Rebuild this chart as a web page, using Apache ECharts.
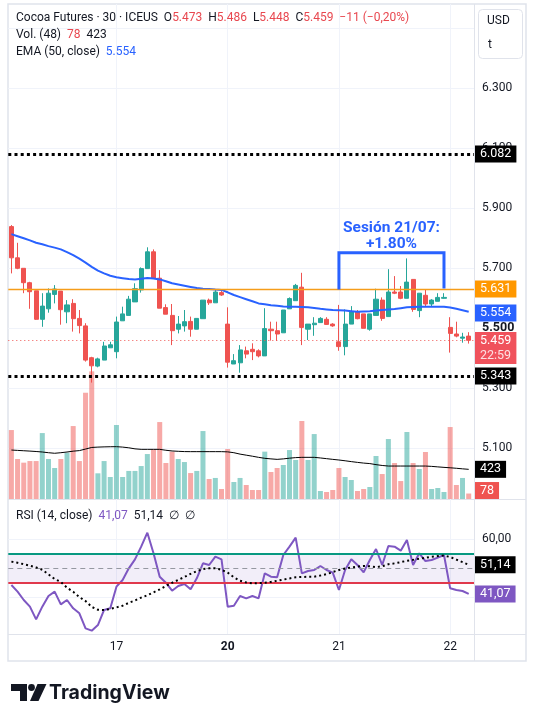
<!DOCTYPE html>
<html><head><meta charset="utf-8">
<script src="https://cdn.jsdelivr.net/npm/echarts@6/dist/echarts.min.js"></script>
<style>html,body{margin:0;padding:0;background:#fff}#c{width:536px;height:709px}</style>
</head><body><div id="c"></div>
<script>
// ---------- DATA ----------
const opens  = [5.838,5.734,5.699,5.651,5.624,5.529,5.564,5.612,5.623,5.554,5.582,5.532,5.507,5.401,5.373,5.393,5.434,5.421,5.524,5.542,5.587,5.627,5.698,5.754,5.666,5.568,5.542,5.496,5.507,5.522,5.496,5.531,5.593,5.584,5.618,5.513,5.380,5.384,5.424,5.429,5.424,5.407,5.496,5.491,5.484,5.564,5.591,5.636,5.496,5.511,5.518,5.529,5.513,5.454,5.438,5.513,5.554,5.547,5.496,5.542,5.593,5.538,5.620,5.620,5.599,5.662,5.558,5.609,5.580,5.589,5.599,5.502,5.480,5.466,5.473];
const closes = [5.734,5.699,5.651,5.621,5.529,5.573,5.616,5.630,5.561,5.577,5.531,5.508,5.393,5.374,5.397,5.440,5.444,5.520,5.547,5.596,5.631,5.698,5.754,5.666,5.566,5.546,5.491,5.513,5.521,5.496,5.532,5.593,5.584,5.620,5.610,5.386,5.391,5.427,5.413,5.421,5.407,5.498,5.491,5.480,5.560,5.598,5.642,5.502,5.513,5.516,5.532,5.512,5.507,5.438,5.513,5.554,5.531,5.499,5.547,5.596,5.532,5.620,5.616,5.599,5.653,5.562,5.616,5.580,5.593,5.602,5.602,5.482,5.473,5.470,5.459];
const lows   = [5.682,5.696,5.616,5.564,5.527,5.504,5.551,5.582,5.511,5.516,5.488,5.482,5.388,5.318,5.369,5.393,5.434,5.399,5.524,5.542,5.587,5.618,5.698,5.666,5.566,5.546,5.443,5.482,5.488,5.471,5.496,5.531,5.577,5.584,5.607,5.368,5.380,5.351,5.399,5.393,5.402,5.407,5.458,5.457,5.484,5.564,5.591,5.443,5.460,5.474,5.518,5.510,5.504,5.424,5.409,5.513,5.529,5.499,5.491,5.542,5.524,5.538,5.613,5.596,5.599,5.554,5.536,5.571,5.571,5.589,5.598,5.418,5.469,5.451,5.448];
const highs  = [5.843,5.784,5.699,5.654,5.624,5.616,5.632,5.643,5.623,5.593,5.596,5.560,5.516,5.404,5.401,5.454,5.454,5.538,5.571,5.607,5.649,5.702,5.769,5.762,5.693,5.579,5.580,5.540,5.560,5.538,5.532,5.593,5.598,5.629,5.627,5.569,5.413,5.443,5.438,5.449,5.429,5.566,5.521,5.521,5.560,5.602,5.647,5.684,5.513,5.536,5.536,5.536,5.516,5.577,5.562,5.573,5.560,5.547,5.547,5.631,5.602,5.696,5.673,5.640,5.732,5.662,5.616,5.627,5.596,5.616,5.616,5.536,5.521,5.484,5.486];
const volumes = [983,570,518,541,541,940,570,442,570,660,1040,541,1515,1820,366,541,314,1055,314,400,400,470,641,708,1097,513,675,570,527,370,400,969,285,300,143,713,242,300,200,128,128,675,385,442,485,698,556,1112,556,926,114,100,128,442,314,271,114,143,171,613,356,855,513,256,955,513,428,670,143,157,100,1026,200,300,78];
const volumeMA = [698,693,688,683,677,670,660,652,660,670,682,690,712,735,740,743,745,746,740,730,715,708,708,708,708,695,685,680,676,675,675,675,675,675,675,672,660,640,625,610,594,580,572,565,572,582,590,594,594,594,585,575,565,556,545,533,522,512,505,490,478,470,470,470,470,470,470,470,465,458,451,445,438,430,423];
const ema50 = [5.813,5.806,5.799,5.792,5.784,5.779,5.773,5.768,5.762,5.753,5.743,5.731,5.718,5.704,5.691,5.682,5.674,5.669,5.666,5.663,5.662,5.664,5.667,5.665,5.662,5.656,5.649,5.645,5.641,5.637,5.633,5.631,5.630,5.628,5.627,5.619,5.610,5.603,5.596,5.589,5.582,5.579,5.576,5.574,5.572,5.571,5.571,5.570,5.569,5.567,5.564,5.562,5.560,5.559,5.558,5.556,5.554,5.555,5.556,5.558,5.560,5.562,5.563,5.566,5.569,5.570,5.571,5.571,5.571,5.571,5.571,5.568,5.564,5.559,5.554];
const rsi14 = [44.14,41.84,38.97,36.67,32.30,36.67,40.34,41.84,37.47,38.97,36.09,34.37,29.20,28.39,30.34,35.52,36.09,43.56,45.86,49.89,52.99,57.36,62.18,55.06,47.01,44.94,42.18,43.79,44.48,42.64,46.44,51.61,51.03,53.91,52.99,36.67,37.01,40.34,39.54,40.34,39.54,48.16,47.01,46.78,54.48,57.36,60.46,48.16,48.97,49.31,50.69,49.31,48.39,42.41,49.31,52.99,51.03,48.51,52.76,56.55,51.03,57.59,57.36,55.98,59.66,51.03,55.06,52.41,52.76,53.56,54.48,42.99,42.41,42.07,41.07];
const rsiMA = [52.2,51.8,51.3,50.8,50.2,49.4,47.8,46.2,45.2,43.2,41.8,40.0,38.6,36.6,35.6,35.5,35.9,36.4,37.0,38.0,38.8,39.8,40.6,41.6,42.6,43.8,44.9,45.9,46.9,48.0,48.9,49.6,49.9,49.9,49.4,48.4,46.8,45.6,45.0,44.7,44.8,44.9,45.2,45.6,46.0,46.4,46.8,46.9,47.0,47.0,47.4,47.9,48.6,49.3,49.8,50.2,50.5,50.7,50.6,50.3,50.6,51.3,51.6,52.0,52.5,52.8,53.2,53.5,53.9,54.1,54.3,53.8,52.9,52.0,51.14];
const dayTicks  = [17, 35, 53, 71];
const dayLabels = ['17', '20', '21', '22'];
const boldDay   = '20';
const priceGridLevels  = [5.1, 5.3, 5.5, 5.7, 5.9, 6.1, 6.3, 6.5];
const priceLabelLevels = [5.1, 5.3, 5.5, 5.7, 5.9, 6.1, 6.3];
const boldPrice = 5.5;
const rsiGridLevels  = [40, 60];
const rsiLabelLevels = [60];
const rsiUpper = 55, rsiMiddle = 50, rsiLower = 45;
const levelHigh = 6.082, levelLow = 5.343, levelOrange = 5.631;
const sessionStart = 53, sessionEnd = 70;
const bracketTop = 5.751, bracketLeftBottom = 5.633, bracketRightBottom = 5.637;
const sessionNote = ['Sesión 21/07:', '+1.80%'];
const countdown = '22:59';
const symbolTitle = 'Cocoa Futures · 30 · ICEUS';

// ---------- STYLE ----------
const FONT = 'Roboto, "Liberation Sans", Arial, sans-serif';
const TXT = '#131722';
const UP = '#26a69a', DOWN = '#ef5350';
const UPV = 'rgba(38,166,154,0.5)', DOWNV = 'rgba(239,83,80,0.5)';
const BLUE = '#2962ff', PURPLE = '#7e57c2', ORANGE = '#ff9800';
const GRIDC = '#f0f3fa', BORDER = '#e0e3eb';
const L = 8.3, R = 474, W = R - L;
const XMIN = -0.5, BAR = 6.18, XMAX = XMIN + W / BAR;

const n = closes.length;
const last = n - 1;
const f3 = v => v.toFixed(3);
const f2c = v => v.toFixed(2).replace('.', ',');
const diffTicks = Math.round((closes[last] - closes[last - 1]) * 1000);
const pct = (closes[last] - closes[last - 1]) / closes[last - 1] * 100;
const chg = (diffTicks < 0 ? '−' : '+') + Math.abs(diffTicks) + ' (' + (pct < 0 ? '−' : '+') + Math.abs(pct).toFixed(2).replace('.', ',') + '%)';

const candleData = opens.map((o, i) => [i, o, closes[i], lows[i], highs[i]]);
const volData = volumes.map((v, i) => ({ value: [i, v], itemStyle: { color: closes[i] >= opens[i] ? UPV : DOWNV } }));

const boxLabel = (bg, text, extra) => Object.assign({
  show: true, position: 'end', distance: 1, color: '#fff', backgroundColor: bg,
  fontSize: 12.5, fontFamily: FONT, padding: [2, 5, 2, 5], formatter: text
}, extra || {});
const hidden = { color: 'rgba(0,0,0,0)', width: 0 };

const xAxisBase = (gi, showLabels) => ({
  type: 'value', gridIndex: gi, min: XMIN, max: XMAX,
  axisLine: { show: false },
  axisTick: { show: false, customValues: dayTicks },
  splitLine: { show: gi !== 1, lineStyle: { color: GRIDC, width: 1 } },
  axisLabel: {
    show: showLabels, customValues: dayTicks, margin: 7, fontSize: 12, color: TXT, fontFamily: FONT,
    formatter: v => { const k = dayTicks.indexOf(Math.round(v)); const s = k >= 0 ? dayLabels[k] : ''; return s === boldDay ? '{b|' + s + '}' : s; },
    rich: { b: { fontWeight: 'bold', fontSize: 12, color: TXT, fontFamily: FONT } }
  }
});

const option = {
  animation: false,
  textStyle: { fontFamily: FONT },
  grid: [
    { left: L, top: 4, width: W, height: 495 },
    { left: L, top: 359, width: W, height: 140 },
    { left: L, top: 499, width: W, height: 135 }
  ],
  xAxis: [xAxisBase(0, false), Object.assign(xAxisBase(1, false), { show: false }), xAxisBase(2, true)],
  yAxis: [
    {
      type: 'value', gridIndex: 0, position: 'right', min: 4.93, max: 6.58,
      axisLine: { show: false },
      axisTick: { show: false, customValues: priceGridLevels },
      splitLine: { show: true, lineStyle: { color: GRIDC, width: 1 } },
      axisLabel: {
        customValues: priceLabelLevels, margin: 8, fontSize: 12, color: TXT, fontFamily: FONT,
        formatter: v => Math.abs(v - boldPrice) < 1e-6 ? '{b|' + f3(v) + '}' : f3(v),
        rich: { b: { fontWeight: 'bold', fontSize: 12.5, color: TXT, fontFamily: FONT } }
      }
    },
    { type: 'value', gridIndex: 1, min: 0, max: 1996, show: false },
    {
      type: 'value', gridIndex: 2, position: 'right', min: 60 - 95 / 2.9, max: 60 + 40 / 2.9,
      axisLine: { show: false },
      axisTick: { show: false, customValues: rsiGridLevels },
      splitLine: { show: true, lineStyle: { color: GRIDC, width: 1 } },
      axisLabel: { customValues: rsiLabelLevels, margin: 8, fontSize: 12, color: TXT, fontFamily: FONT, formatter: v => f2c(v) }
    }
  ],
  series: [
    {
      type: 'bar', xAxisIndex: 1, yAxisIndex: 1, data: volData, barWidth: 5, z: 1, silent: true,
      markLine: {
        silent: true, symbol: ['none', 'none'], animation: false,
        data: [
          { yAxis: volumeMA[last], lineStyle: hidden, label: boxLabel('#000', String(volumeMA[last])) },
          { yAxis: volumes[last], lineStyle: hidden, label: boxLabel(DOWN, String(volumes[last]), { offset: [0, -3] }) }
        ]
      }
    },
    {
      type: 'line', xAxisIndex: 1, yAxisIndex: 1, data: volumeMA.map((v, i) => [i, v]),
      symbol: 'none', lineStyle: { color: '#000', width: 1 }, z: 2, silent: true
    },
    {
      type: 'candlestick', xAxisIndex: 0, yAxisIndex: 0, data: candleData,
      encode: { x: 0, y: [1, 2, 3, 4] }, barWidth: 4.6, z: 3,
      itemStyle: { color: UP, color0: DOWN, borderColor: UP, borderColor0: DOWN, borderWidth: 1 },
      markLine: {
        silent: true, symbol: ['none', 'none'], animation: false,
        data: [
          { yAxis: levelOrange, lineStyle: { color: '#f59d1a', width: 1.3, type: 'solid', opacity: 1 }, label: boxLabel(ORANGE, f3(levelOrange)) },
          { yAxis: levelHigh, lineStyle: { color: '#000', width: 3, type: [3, 3.2] }, label: boxLabel('#000', f3(levelHigh)) },
          { yAxis: levelLow, lineStyle: { color: '#000', width: 3, type: [3, 3.2] }, label: boxLabel('#000', f3(levelLow)) },
          { yAxis: closes[last], lineStyle: { color: DOWN, width: 1, type: [1, 3] },
            label: boxLabel('#f0525c', f3(closes[last]) + '\n{c|' + countdown + '}', { lineHeight: 15, padding: [1, 5, 1, 5], offset: [0, 8], rich: { c: { color: 'rgba(255,255,255,0.82)', fontSize: 12.5, fontFamily: FONT, lineHeight: 15 } } }) }
        ]
      }
    },
    {
      type: 'line', xAxisIndex: 0, yAxisIndex: 0, data: ema50.map((v, i) => [i, v]),
      symbol: 'none', lineStyle: { color: BLUE, width: 2 }, z: 4, silent: true,
      markLine: {
        silent: true, symbol: ['none', 'none'], animation: false,
        data: [{ yAxis: ema50[last], lineStyle: hidden, label: boxLabel(BLUE, f3(ema50[last])) }]
      }
    },
    {
      type: 'line', xAxisIndex: 0, yAxisIndex: 0,
      data: [[sessionStart, bracketLeftBottom], [sessionStart, bracketTop], [sessionEnd, bracketTop], [sessionEnd, bracketRightBottom]],
      symbol: 'none', lineStyle: { color: BLUE, width: 3, cap: 'square', join: 'miter' }, z: 5, silent: true,
      markPoint: {
        silent: true, symbol: 'rect', symbolSize: 1, itemStyle: { color: 'rgba(0,0,0,0)' },
        data: [{ coord: [(sessionStart + sessionEnd) / 2, bracketTop + 0.056] }],
        label: {
          show: true, position: 'inside', formatter: sessionNote.join('\n'), color: BLUE,
          fontSize: 15.5, fontWeight: 'bold', lineHeight: 16, fontFamily: FONT, align: 'center'
        }
      }
    },
    {
      type: 'line', xAxisIndex: 2, yAxisIndex: 2, data: rsi14.map((v, i) => [i, v]),
      symbol: 'none', lineStyle: { color: PURPLE, width: 2 }, z: 4, silent: true,
      markArea: { silent: true, itemStyle: { color: 'rgba(126,87,194,0.1)' }, data: [[{ yAxis: rsiLower }, { yAxis: rsiUpper }]] },
      markLine: {
        silent: true, symbol: ['none', 'none'], animation: false,
        data: [
          { yAxis: rsiUpper, lineStyle: { color: '#089981', width: 2, type: 'solid' }, label: { show: false } },
          { yAxis: rsiLower, lineStyle: { color: '#e0394c', width: 2, type: 'solid' }, label: { show: false } },
          { yAxis: rsiMiddle, lineStyle: { color: '#9598a1', width: 1, type: [5, 4] }, label: { show: false } },
          { yAxis: rsiMA[last], lineStyle: hidden, label: boxLabel('#000', f2c(rsiMA[last])) },
          { yAxis: rsi14[last], lineStyle: hidden, label: boxLabel(PURPLE, f2c(rsi14[last])) }
        ]
      }
    },
    {
      type: 'line', xAxisIndex: 2, yAxisIndex: 2, data: rsiMA.map((v, i) => [i, v]),
      symbol: 'none', lineStyle: { color: '#000', width: 2, type: [2, 3] }, z: 5, silent: true
    }
  ],
  graphic: [
    { type: 'rect', shape: { x: 8, y: 4, width: 518, height: 657 }, style: { fill: 'none', stroke: BORDER, lineWidth: 1.5 }, silent: true, z: -1 },
    { type: 'line', shape: { x1: 474.5, y1: 4, x2: 474.5, y2: 661 }, style: { stroke: BORDER, lineWidth: 1 }, silent: true },
    { type: 'line', shape: { x1: 8, y1: 499.5, x2: 526, y2: 499.5 }, style: { stroke: BORDER, lineWidth: 1 }, silent: true },
    { type: 'line', shape: { x1: 8, y1: 634.5, x2: 526, y2: 634.5 }, style: { stroke: BORDER, lineWidth: 1 }, silent: true },
    { type: 'rect', shape: { x: 478.5, y: 9.5, width: 44, height: 49, r: 4 }, style: { fill: '#fff', stroke: BORDER, lineWidth: 1 }, z: 10, silent: true },
    { type: 'text', x: 487, y: 21, z: 11, silent: true, style: { text: 'USD', fill: TXT, font: '12px ' + FONT, verticalAlign: 'middle' } },
    { type: 'text', x: 488, y: 45, z: 11, silent: true, style: { text: 't', fill: TXT, font: '12px ' + FONT, verticalAlign: 'middle' } },
    { type: 'text', x: 16, y: 18, z: 11, silent: true, style: {
        text: symbolTitle + '  O{r|' + f3(opens[last]) + '}  H{r|' + f3(highs[last]) + '}  L{r|' + f3(lows[last]) + '}  C{r|' + f3(closes[last]) + '}  {r|' + chg + '}',
        fill: TXT, font: '12px ' + FONT, verticalAlign: 'middle',
        rich: { r: { fill: '#e8474f', font: '12px ' + FONT } } } },
    { type: 'text', x: 16, y: 35, z: 11, silent: true, style: {
        text: 'Vol. (48)  {r|' + volumes[last] + '}  ' + volumeMA[last],
        fill: TXT, font: '12px ' + FONT, verticalAlign: 'middle',
        rich: { r: { fill: '#e8474f', font: '12px ' + FONT } } } },
    { type: 'text', x: 16, y: 52, z: 11, silent: true, style: {
        text: 'EMA (50, close)  {b|' + f3(ema50[last]) + '}',
        fill: TXT, font: '12px ' + FONT, verticalAlign: 'middle',
        rich: { b: { fill: BLUE, font: '12px ' + FONT } } } },
    { type: 'text', x: 16, y: 516, z: 11, silent: true, style: {
        text: 'RSI (14, close)  {p|' + f2c(rsi14[last]) + '}  ' + f2c(rsiMA[last]) + '  ∅  ∅',
        fill: TXT, font: '12px ' + FONT, verticalAlign: 'middle',
        rich: { p: { fill: PURPLE, font: '12px ' + FONT } } } },
    { type: 'polygon', z: 11, silent: true, shape: { points: [[11, 684], [27, 684], [27, 701], [20, 701], [20, 691], [11, 691]] }, style: { fill: '#131722' } },
    { type: 'circle', z: 11, silent: true, shape: { cx: 31.5, cy: 687.5, r: 3.4 }, style: { fill: '#131722' } },
    { type: 'polygon', z: 11, silent: true, shape: { points: [[37.5, 684], [46.5, 684], [38.5, 701], [30, 701]] }, style: { fill: '#131722' } },
    { type: 'text', x: 49, y: 693, z: 11, silent: true, style: { text: 'TradingView', fill: '#131722', font: 'bold 19.5px Inter, ' + FONT, verticalAlign: 'middle' } }
  ]
};

const chart = echarts.init(document.getElementById('c'), null, { renderer: 'canvas' });
chart.setOption(option);
</script>
</body></html>
